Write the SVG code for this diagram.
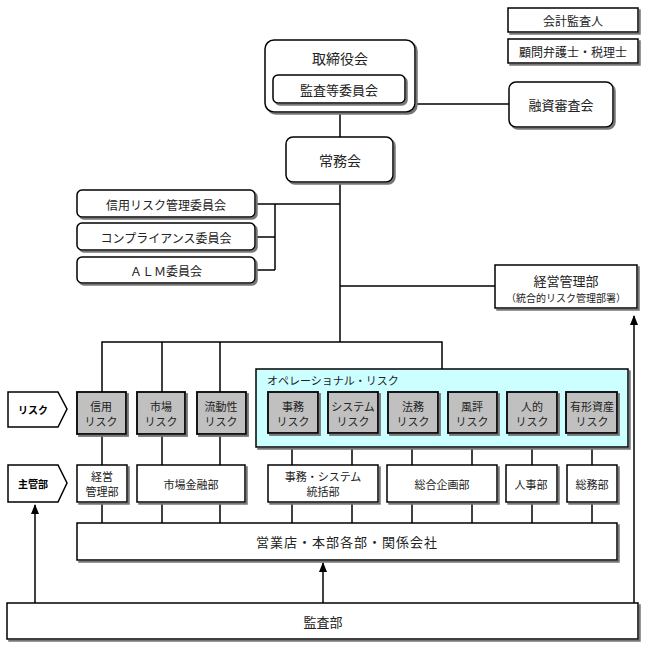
<svg xmlns="http://www.w3.org/2000/svg" width="648" height="648" viewBox="0 0 648 648">
<defs>
<filter id="sh" x="-10%" y="-10%" width="130%" height="140%">
<feDropShadow dx="2" dy="2" stdDeviation="0.4" flood-color="#777" flood-opacity="1"/>
</filter>
<marker id="arr" viewBox="0 0 10 8" refX="9" refY="4" markerWidth="10" markerHeight="8" markerUnits="userSpaceOnUse" orient="auto">
<path d="M0,0 L10,4 L0,8 Z" fill="#000"/>
</marker>
</defs>
<style>
text{font-family:"Noto Sans CJK JP","Noto Sans CJK SC",sans-serif;fill:#222;text-anchor:middle;dominant-baseline:central}
.b{fill:#fff;stroke:#000;stroke-width:1.5;filter:url(#sh)}
.g{fill:#c0c0c0;stroke:#000;stroke-width:1.8;filter:url(#sh)}
.op{fill:#ccffff;stroke:#000;stroke-width:1.5;filter:url(#sh)}
.ln{fill:none;stroke:#000;stroke-width:1.5}
.t14{font-size:14px}
.t13{font-size:13px}
.t12{font-size:12px}
.t11{font-size:11px}
.t10{font-size:10px}
.bold{font-weight:bold;font-size:10px;fill:#000}
</style>

<g id="connectors" class="ln">
<line x1="340" y1="112" x2="340" y2="137"/>
<line x1="415" y1="104" x2="509" y2="104"/>
<line x1="340" y1="182" x2="340" y2="342"/>
<line x1="255" y1="204" x2="340" y2="204"/>
<line x1="275" y1="204" x2="275" y2="270"/>
<line x1="255" y1="237" x2="275" y2="237"/>
<line x1="255" y1="270" x2="275" y2="270"/>
<line x1="340" y1="286" x2="495" y2="286"/>
<polyline points="102,392 102,342 442,342 442,369"/>
<line x1="162" y1="342" x2="162" y2="392"/>
<line x1="220" y1="342" x2="220" y2="392"/>
<line x1="102" y1="434" x2="102" y2="465"/>
<line x1="162" y1="434" x2="162" y2="465"/>
<line x1="220" y1="434" x2="220" y2="465"/>
<line x1="292" y1="433" x2="292" y2="465"/>
<line x1="352" y1="433" x2="352" y2="465"/>
<line x1="412" y1="433" x2="412" y2="465"/>
<line x1="472" y1="433" x2="472" y2="465"/>
<line x1="532" y1="433" x2="532" y2="465"/>
<line x1="592" y1="433" x2="592" y2="465"/>
<line x1="102" y1="502" x2="102" y2="523"/>
<line x1="162" y1="502" x2="162" y2="523"/>
<line x1="220" y1="502" x2="220" y2="523"/>
<line x1="292" y1="502" x2="292" y2="523"/>
<line x1="352" y1="502" x2="352" y2="523"/>
<line x1="412" y1="502" x2="412" y2="523"/>
<line x1="472" y1="502" x2="472" y2="523"/>
<line x1="532" y1="502" x2="532" y2="523"/>
<line x1="592" y1="502" x2="592" y2="523"/>
<line x1="35" y1="603" x2="35" y2="505" marker-end="url(#arr)"/>
<line x1="323" y1="603" x2="323" y2="563" marker-end="url(#arr)"/>
<line x1="634" y1="603" x2="634" y2="316" marker-end="url(#arr)"/>
</g>

<g id="kaikei"><rect class="b" x="508" y="8" width="130" height="24"/><text class="t12" x="573" y="20">会計監査人</text></g>
<g id="komon"><rect class="b" x="508" y="39" width="130" height="24"/><text class="t12" x="573" y="51">顧問弁護士・税理士</text></g>

<g id="torishimariyaku">
<rect class="b" x="265" y="40" width="150" height="72" rx="9"/>
<text class="t14" x="340" y="58">取締役会</text>
<rect class="b" x="273" y="75" width="132" height="28" rx="5"/>
<text class="t13" x="339" y="89">監査等委員会</text>
</g>
<g id="yushi"><rect class="b" x="509" y="82" width="104" height="45" rx="7"/><text class="t13" x="561" y="104">融資審査会</text></g>
<g id="jomu"><rect class="b" x="286" y="137" width="107" height="45" rx="7"/><text class="t14" x="340" y="160">常務会</text></g>

<g id="c1"><rect class="b" x="77" y="190" width="178" height="27" rx="5"/><text class="t12" x="166" y="204">信用リスク管理委員会</text></g>
<g id="c2"><rect class="b" x="77" y="223" width="178" height="27" rx="5"/><text class="t12" x="166" y="237">コンプライアンス委員会</text></g>
<g id="c3"><rect class="b" x="77" y="257" width="178" height="26" rx="5"/><text class="t12" x="166" y="270">ＡＬＭ委員会</text></g>

<g id="keiei"><rect class="b" x="495" y="265" width="142" height="43"/><text class="t13" x="566" y="280">経営管理部</text><text class="t10" x="566" y="297">（統合的リスク管理部署）</text></g>

<g id="risk-label"><path d="M8,392 L58,392 L67,409 L58,427 L8,427 Z" fill="#fff" stroke="#000" stroke-width="1.5"/><text class="bold" x="33" y="409">リスク</text></g>
<g id="shukan-label"><path d="M8,465 L58,465 L67,483 L58,502 L8,502 Z" fill="#fff" stroke="#000" stroke-width="1.5"/><text class="bold" x="33" y="483">主管部</text></g>

<g id="r-shinyo"><rect class="g" x="77" y="392" width="49" height="42"/><text class="t11" x="101" y="406">信用</text><text class="t11" x="101" y="421">リスク</text></g>
<g id="r-shijo"><rect class="g" x="137" y="392" width="48" height="42"/><text class="t11" x="161" y="406">市場</text><text class="t11" x="161" y="421">リスク</text></g>
<g id="r-ryudo"><rect class="g" x="197" y="392" width="49" height="42"/><text class="t11" x="221" y="406">流動性</text><text class="t11" x="221" y="421">リスク</text></g>

<g id="operational">
<rect class="op" x="256" y="369" width="372" height="78"/>
<text class="t11" x="267" y="380" style="text-anchor:start">オペレーショナル・リスク</text>
</g>
<g id="r-jimu"><rect class="g" x="268" y="392" width="50" height="41"/><text class="t11" x="293" y="406">事務</text><text class="t11" x="293" y="421">リスク</text></g>
<g id="r-system"><rect class="g" x="328" y="392" width="50" height="41"/><text class="t11" x="353" y="406">システム</text><text class="t11" x="353" y="421">リスク</text></g>
<g id="r-homu"><rect class="g" x="388" y="392" width="50" height="41"/><text class="t11" x="413" y="406">法務</text><text class="t11" x="413" y="421">リスク</text></g>
<g id="r-fuhyo"><rect class="g" x="448" y="392" width="49" height="41"/><text class="t11" x="472" y="406">風評</text><text class="t11" x="472" y="421">リスク</text></g>
<g id="r-jinteki"><rect class="g" x="507" y="392" width="50" height="41"/><text class="t11" x="532" y="406">人的</text><text class="t11" x="532" y="421">リスク</text></g>
<g id="r-yukei"><rect class="g" x="566" y="392" width="51" height="41"/><text class="t11" x="592" y="406">有形資産</text><text class="t11" x="592" y="421">リスク</text></g>

<g id="d-keiei"><rect class="b" x="77" y="465" width="50" height="37"/><text class="t11" x="102" y="476">経営</text><text class="t11" x="102" y="491">管理部</text></g>
<g id="d-shijo"><rect class="b" x="137" y="465" width="108" height="37"/><text class="t11" x="191" y="484">市場金融部</text></g>
<g id="d-jimu"><rect class="b" x="268" y="465" width="110" height="37"/><text class="t11" x="323" y="476">事務・システム</text><text class="t11" x="323" y="491">統括部</text></g>
<g id="d-sogo"><rect class="b" x="387" y="465" width="110" height="37"/><text class="t11" x="442" y="484">総合企画部</text></g>
<g id="d-jinji"><rect class="b" x="506" y="465" width="51" height="37"/><text class="t11" x="531" y="484">人事部</text></g>
<g id="d-somu"><rect class="b" x="567" y="465" width="50" height="37"/><text class="t11" x="592" y="484">総務部</text></g>

<g id="eigyo"><rect class="b" x="77" y="523" width="540" height="37"/><text class="t13" x="347" y="541" letter-spacing="1">営業店・本部各部・関係会社</text></g>
<g id="kansa"><rect class="b" x="7" y="603" width="631" height="36"/><text class="t13" x="323" y="621">監査部</text></g>
</svg>
